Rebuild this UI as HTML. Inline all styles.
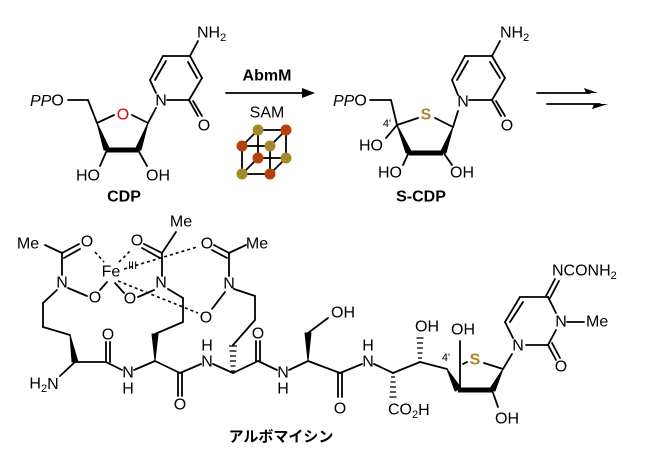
<!DOCTYPE html>
<html><head><meta charset="utf-8"><style>
html,body{margin:0;padding:0;background:#fff;}
svg{display:block;}
text{font-family:"Liberation Sans","Noto Sans CJK JP",sans-serif;font-size:16px;fill:#000;}
.b{font-weight:bold;}
.s{font-size:11px;}
</style></head><body>
<svg width="646" height="470" viewBox="0 0 646 470" xmlns="http://www.w3.org/2000/svg">
<g stroke="#000" stroke-width="1.8" fill="none" stroke-linecap="round">
<line x1="68" y1="100" x2="88" y2="100"/><line x1="88" y1="100" x2="97" y2="123"/>
<line x1="97" y1="123" x2="114" y2="115"/><line x1="132" y1="115" x2="148" y2="123"/>
<line x1="138" y1="150" x2="147" y2="166"/><line x1="107" y1="150" x2="100" y2="166"/>
<line x1="148" y1="123" x2="156" y2="108"/>
<line x1="156" y1="93" x2="150" y2="80"/><line x1="150" y1="80" x2="163" y2="56"/>
<line x1="155" y1="80" x2="166" y2="61"/>
<line x1="163" y1="56" x2="190" y2="56"/><line x1="190" y1="56" x2="202" y2="78"/>
<line x1="188" y1="62" x2="197" y2="78"/>
<line x1="202" y1="78" x2="189" y2="100"/><line x1="189" y1="100" x2="167" y2="100"/>
<line x1="189" y1="100" x2="198" y2="116"/><line x1="193" y1="101" x2="202" y2="116"/>
<line x1="190" y1="56" x2="198" y2="41"/>
<line x1="226" y1="93" x2="308" y2="93"/>
<g stroke-width="1.8">
<rect x="242" y="146" width="28" height="28"/>
<rect x="258" y="130" width="28" height="28"/>
<line x1="242" y1="146" x2="258" y2="130"/><line x1="270" y1="146" x2="286" y2="130"/>
<line x1="242" y1="174" x2="258" y2="158"/><line x1="270" y1="174" x2="286" y2="158"/>
</g>
<line x1="370" y1="100" x2="391" y2="100"/><line x1="391" y1="100" x2="397" y2="125"/>
<line x1="397" y1="125" x2="418" y2="118"/><line x1="435" y1="118" x2="453" y2="127"/>
<line x1="397" y1="125" x2="386" y2="138"/>
<line x1="409" y1="152" x2="403" y2="165"/><line x1="443" y1="152" x2="452" y2="165"/>
<line x1="453" y1="127" x2="458" y2="111"/>
<line x1="458" y1="95" x2="452" y2="80"/><line x1="452" y1="80" x2="465" y2="56"/>
<line x1="457" y1="80" x2="468" y2="61"/>
<line x1="465" y1="56" x2="492" y2="56"/><line x1="492" y1="56" x2="505" y2="78"/>
<line x1="490" y1="62" x2="500" y2="78"/>
<line x1="505" y1="78" x2="492" y2="100"/><line x1="492" y1="100" x2="469" y2="100"/>
<line x1="492" y1="100" x2="501" y2="116"/><line x1="496" y1="101" x2="505" y2="116"/>
<line x1="492" y1="56" x2="500" y2="41"/>
<line x1="537" y1="93" x2="590" y2="93"/><line x1="547" y1="104" x2="600" y2="104"/>

<line x1="45" y1="245" x2="62" y2="253"/>
<line x1="62" y1="253" x2="79" y2="244"/><line x1="64" y1="258" x2="80" y2="249"/>
<line x1="62" y1="253" x2="62" y2="275"/>
<line x1="68" y1="288" x2="87" y2="296"/>
<line x1="100" y1="290" x2="107" y2="282"/>
<line x1="57" y1="290" x2="43" y2="303"/><line x1="43" y1="303" x2="43" y2="327"/>
<line x1="43" y1="327" x2="70" y2="335"/>
<line x1="75" y1="362" x2="60" y2="376"/>
<line x1="75" y1="362" x2="106" y2="362"/>
<line x1="106" y1="362" x2="106" y2="342"/><line x1="110" y1="362" x2="110" y2="342"/>
<line x1="106" y1="362" x2="122" y2="370"/>
<line x1="134" y1="370" x2="155" y2="361"/>
<line x1="155" y1="334" x2="183" y2="322"/><line x1="183" y1="322" x2="183" y2="298"/>
<line x1="183" y1="298" x2="168" y2="289"/>
<line x1="155" y1="361" x2="180" y2="373"/>
<line x1="178" y1="373" x2="178" y2="396"/><line x1="182" y1="373" x2="182" y2="396"/>
<line x1="180" y1="373" x2="201" y2="364"/>
<line x1="213" y1="364" x2="233" y2="373"/>
<line x1="255" y1="320" x2="255" y2="296"/><line x1="255" y1="296" x2="234" y2="289"/>
<line x1="233" y1="345" x2="255" y2="320"/>
<line x1="162" y1="253" x2="176" y2="232"/>
<line x1="162" y1="253" x2="144" y2="244"/><line x1="160" y1="258" x2="142" y2="248"/>
<line x1="162" y1="253" x2="162" y2="276"/>
<line x1="154" y1="290" x2="138" y2="297"/>
<line x1="115" y1="283" x2="124" y2="293"/>
<line x1="229" y1="253" x2="246" y2="245"/>
<line x1="229" y1="253" x2="214" y2="245"/><line x1="227" y1="258" x2="212" y2="250"/>
<line x1="229" y1="253" x2="229" y2="276"/>
<line x1="225" y1="292" x2="212" y2="309"/>
<line x1="233" y1="373" x2="258" y2="361"/>
<line x1="256" y1="361" x2="256" y2="341"/><line x1="260" y1="361" x2="260" y2="341"/>
<line x1="258" y1="361" x2="277" y2="370"/>
<line x1="289" y1="370" x2="308" y2="361"/>
<line x1="308" y1="333" x2="328" y2="318"/>
<line x1="308" y1="361" x2="340" y2="373"/>
<line x1="338" y1="373" x2="338" y2="397"/><line x1="342" y1="373" x2="342" y2="397"/>
<line x1="340" y1="373" x2="362" y2="364"/>
<line x1="374" y1="364" x2="393" y2="373"/>
<line x1="393" y1="373" x2="420" y2="362"/>
<line x1="420" y1="362" x2="447" y2="369"/>
<line x1="460" y1="390" x2="460" y2="341"/>
<line x1="463" y1="364" x2="467" y2="362"/>
<line x1="484" y1="363" x2="503" y2="369"/>
<line x1="492" y1="390" x2="498" y2="407"/>
<line x1="503" y1="369" x2="512" y2="354"/>
<line x1="513" y1="338" x2="505" y2="322"/><line x1="505" y1="322" x2="520" y2="297"/>
<line x1="510" y1="322" x2="523" y2="302"/>
<line x1="520" y1="297" x2="548" y2="297"/><line x1="548" y1="297" x2="556" y2="313"/>
<line x1="556" y1="330" x2="548" y2="345"/><line x1="548" y1="345" x2="526" y2="345"/>
<line x1="548" y1="345" x2="556" y2="360"/><line x1="552" y1="343" x2="560" y2="358"/>
<line x1="567" y1="322" x2="584" y2="322"/>
<line x1="546" y1="296" x2="555" y2="279"/><line x1="550" y1="298" x2="559" y2="281"/>
</g>
<g stroke="#000" stroke-width="1.6" stroke-dasharray="3,3" fill="none">
<line x1="95" y1="252" x2="104" y2="262"/>
<line x1="119" y1="262" x2="131" y2="250"/>
<line x1="124" y1="269" x2="197" y2="247"/>
<line x1="118" y1="281" x2="198" y2="313"/>
</g>
<g fill="#000" stroke="#000" stroke-linejoin="round">
<polygon points="148,123 135,150 141,150"/>
<line x1="107" y1="150" x2="138" y2="150" stroke-width="5"/>
<polygon points="97,123 104,150 110,150"/>
<polygon points="453,127 440,153 446,153"/>
<line x1="409" y1="153" x2="443" y2="153" stroke-width="5"/>
<polygon points="397,125 406,153 412,153"/>
<polygon points="70,335 72,362 78,362" stroke-width="1"/>
<polygon points="155,361 152,334 158,334" stroke-width="1"/>
<polygon points="308,361 305,333 311,333" stroke-width="1"/>
<polygon points="447,369 455,391 461,388" stroke-width="1"/>
<line x1="458" y1="390" x2="492" y2="390" stroke-width="5"/>
<polygon points="503,369 489,390 495,391" stroke-width="1"/>
<polygon points="315,93 302,88 302,98" stroke="none"/>
<polygon points="598,93 584,88 586,93" stroke="none"/>
<polygon points="608,104 594,104 592,109" stroke="none"/>
</g>
<g stroke="#000" stroke-width="1.3">
<line x1="231" y1="371" x2="235" y2="371"/><line x1="230.5" y1="366" x2="235.5" y2="366"/><line x1="230" y1="361" x2="236" y2="361"/><line x1="230" y1="356" x2="236" y2="356"/><line x1="229.5" y1="351" x2="236.5" y2="351"/><line x1="229" y1="346" x2="237" y2="346"/>
<line x1="391" y1="377" x2="395" y2="377"/><line x1="390.5" y1="382" x2="395.5" y2="382"/><line x1="390" y1="387" x2="396" y2="387"/><line x1="390" y1="392" x2="396" y2="392"/><line x1="389.5" y1="397" x2="396.5" y2="397"/>
<line x1="418" y1="358" x2="422" y2="358"/><line x1="417.5" y1="353" x2="422.5" y2="353"/><line x1="417" y1="348" x2="423" y2="348"/><line x1="417" y1="343" x2="423" y2="343"/><line x1="416.5" y1="338" x2="423.5" y2="338"/>
</g>
<g>
<circle cx="258" cy="130" r="5.5" fill="#a8862a"/>
<circle cx="286" cy="130" r="5.5" fill="#b5420a"/>
<circle cx="242" cy="146" r="5.5" fill="#b5420a"/>
<circle cx="270" cy="146" r="5.5" fill="#a8862a"/>
<circle cx="258" cy="158" r="5.5" fill="#b5420a"/>
<circle cx="286" cy="158" r="5.5" fill="#a8862a"/>
<circle cx="242" cy="174" r="5.5" fill="#a8862a"/>
<circle cx="270" cy="174" r="5.5" fill="#b5420a"/>
</g>
<g dominant-baseline="central">
<text x="30" y="101"><tspan font-style="italic">PP</tspan>O</text>
<text x="123" y="115" text-anchor="middle" style="fill:#e00000">O</text>
<text x="88" y="176" text-anchor="middle">HO</text>
<text x="158" y="176" text-anchor="middle">OH</text>
<text x="161" y="101" text-anchor="middle">N</text>
<text x="204" y="126" text-anchor="middle">O</text>
<text x="197" y="33">NH<tspan class="s" dy="5">2</tspan></text>
<text x="124" y="197" text-anchor="middle" class="b">CDP</text>
<text x="267" y="76" text-anchor="middle" class="b">AbmM</text>
<text x="267" y="113" text-anchor="middle">SAM</text>

<text x="333" y="101"><tspan font-style="italic">PP</tspan>O</text>
<text x="426" y="115" text-anchor="middle" class="b" style="fill:#a8862a">S</text>
<text x="387" y="124" text-anchor="middle" class="s">4'</text>
<text x="371" y="146" text-anchor="middle">HO</text>
<text x="390" y="173" text-anchor="middle">HO</text>
<text x="462" y="173" text-anchor="middle">OH</text>
<text x="463" y="102" text-anchor="middle">N</text>
<text x="507" y="126" text-anchor="middle">O</text>
<text x="500" y="33">NH<tspan class="s" dy="5">2</tspan></text>
<text x="421" y="197" text-anchor="middle" class="b">S-CDP</text>

<text x="28" y="244" text-anchor="middle">Me</text>
<text x="87" y="242" text-anchor="middle">O</text>
<text x="62" y="283" text-anchor="middle">N</text>
<text x="95" y="298" text-anchor="middle">O</text>
<text x="111" y="272" text-anchor="middle">Fe</text>
<text x="128" y="266" class="s">III</text>
<text x="137" y="241" text-anchor="middle">O</text>
<text x="181" y="222" text-anchor="middle">Me</text>
<text x="161" y="283" text-anchor="middle">N</text>
<text x="130" y="299" text-anchor="middle">O</text>
<text x="207" y="244" text-anchor="middle">O</text>
<text x="257" y="244" text-anchor="middle">Me</text>
<text x="229" y="284" text-anchor="middle">N</text>
<text x="206" y="318" text-anchor="middle">O</text>
<text x="44" y="384" text-anchor="middle">H<tspan class="s" dy="5">2</tspan><tspan dy="-5">N</tspan></text>
<text x="108" y="335" text-anchor="middle">O</text>
<text x="128" y="373" text-anchor="middle">N</text>
<text x="128" y="389" text-anchor="middle">H</text>
<text x="180" y="405" text-anchor="middle">O</text>
<text x="207" y="362" text-anchor="middle">N</text>
<text x="207" y="346" text-anchor="middle">H</text>
<text x="258" y="334" text-anchor="middle">O</text>
<text x="283" y="373" text-anchor="middle">N</text>
<text x="283" y="389" text-anchor="middle">H</text>
<text x="343" y="313" text-anchor="middle">OH</text>
<text x="340" y="409" text-anchor="middle">O</text>
<text x="368" y="362" text-anchor="middle">N</text>
<text x="368" y="346" text-anchor="middle">H</text>
<text x="388" y="410">CO<tspan class="s" dy="5">2</tspan><tspan dy="-5">H</tspan></text>
<text x="427" y="327" text-anchor="middle">OH</text>
<text x="463" y="330" text-anchor="middle">OH</text>
<text x="446" y="358" text-anchor="middle" class="s">4'</text>
<text x="475" y="360" text-anchor="middle" class="b" style="fill:#a8862a">S</text>
<text x="507" y="419" text-anchor="middle">OH</text>
<text x="518" y="346" text-anchor="middle">N</text>
<text x="561" y="322" text-anchor="middle">N</text>
<text x="586" y="322">Me</text>
<text x="561" y="367" text-anchor="middle">O</text>
<text x="552" y="271">NCONH<tspan class="s" dy="5">2</tspan></text>
<text x="281" y="437" text-anchor="middle" class="b" style="font-size:15px">アルボマイシン</text>
</g>
</svg>
</body></html>
